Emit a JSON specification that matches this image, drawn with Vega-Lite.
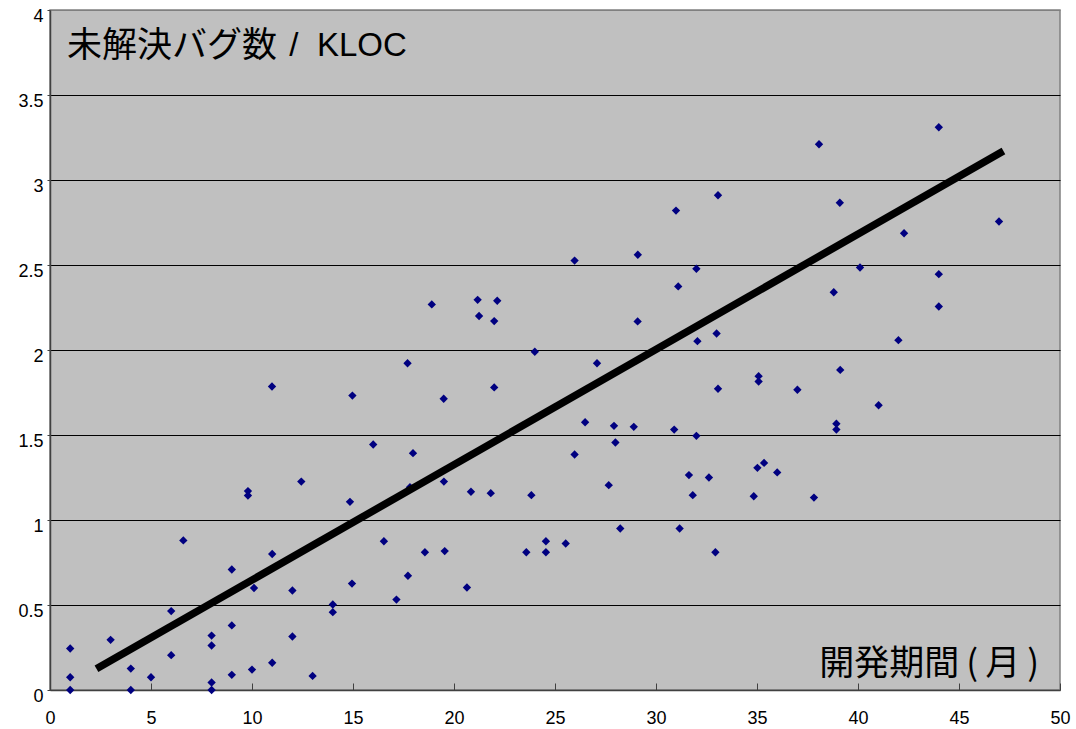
{
  "$schema": "https://vega.github.io/schema/vega-lite/v6.json",
  "width": 1010,
  "height": 680,
  "autosize": "none",
  "padding": {"left": 50, "top": 10, "right": 16, "bottom": 39},
  "background": "white",
  "config": {
    "view": {"fill": "#c0c0c0", "stroke": "#808080", "strokeWidth": 1.5},
    "axis": {"labelFont": "Liberation Sans", "labelFontSize": 18, "labelColor": "black", "title": null, "labelFlush": false, "labelOverlap": false, "format": "~g"}
  },
  "datasets": {
    "bugs": [
      {"months": 1, "bugs": 0.244}, {"months": 1, "bugs": 0.075}, {"months": 1, "bugs": 0.0},
      {"months": 3, "bugs": 0.295}, {"months": 4, "bugs": 0.126}, {"months": 4, "bugs": 0.0},
      {"months": 5, "bugs": 0.075}, {"months": 6, "bugs": 0.464}, {"months": 6, "bugs": 0.205},
      {"months": 6.6, "bugs": 0.88}, {"months": 8, "bugs": 0.32}, {"months": 8, "bugs": 0.262},
      {"months": 8, "bugs": 0.044}, {"months": 8, "bugs": 0.0}, {"months": 9, "bugs": 0.709},
      {"months": 9, "bugs": 0.38}, {"months": 9, "bugs": 0.089}, {"months": 9.8, "bugs": 1.17},
      {"months": 9.8, "bugs": 1.144}, {"months": 10.1, "bugs": 0.6}, {"months": 10, "bugs": 0.12},
      {"months": 11, "bugs": 0.8}, {"months": 11, "bugs": 0.16}, {"months": 10.99, "bugs": 1.785},
      {"months": 12, "bugs": 0.585}, {"months": 12, "bugs": 0.315}, {"months": 12.44, "bugs": 1.226},
      {"months": 13, "bugs": 0.083}, {"months": 14, "bugs": 0.503}, {"months": 14, "bugs": 0.458},
      {"months": 14.85, "bugs": 1.107}, {"months": 14.95, "bugs": 0.626}, {"months": 14.97, "bugs": 1.732},
      {"months": 16.0, "bugs": 1.444}, {"months": 16.53, "bugs": 0.875}, {"months": 17.15, "bugs": 0.532},
      {"months": 17.72, "bugs": 0.672}, {"months": 17.7, "bugs": 1.922}, {"months": 17.82, "bugs": 1.193},
      {"months": 17.97, "bugs": 1.393}, {"months": 18.56, "bugs": 0.81}, {"months": 18.9, "bugs": 2.268},
      {"months": 19.5, "bugs": 1.226}, {"months": 19.49, "bugs": 1.713}, {"months": 19.54, "bugs": 0.817},
      {"months": 20.64, "bugs": 0.603}, {"months": 20.84, "bugs": 1.166}, {"months": 21.17, "bugs": 2.295},
      {"months": 21.24, "bugs": 2.2}, {"months": 21.82, "bugs": 1.158}, {"months": 21.99, "bugs": 2.17},
      {"months": 21.99, "bugs": 1.78}, {"months": 22.14, "bugs": 2.29}, {"months": 23.58, "bugs": 0.81},
      {"months": 23.83, "bugs": 1.146}, {"months": 24.0, "bugs": 1.99}, {"months": 24.55, "bugs": 0.875},
      {"months": 24.55, "bugs": 0.81}, {"months": 25.53, "bugs": 0.862}, {"months": 25.97, "bugs": 2.526},
      {"months": 25.97, "bugs": 1.385}, {"months": 26.49, "bugs": 1.575}, {"months": 27.08, "bugs": 1.922},
      {"months": 27.66, "bugs": 1.205}, {"months": 27.92, "bugs": 1.554}, {"months": 27.99, "bugs": 1.456},
      {"months": 28.23, "bugs": 0.95}, {"months": 28.9, "bugs": 1.548}, {"months": 29.09, "bugs": 2.168},
      {"months": 29.1, "bugs": 2.56}, {"months": 30.9, "bugs": 1.532}, {"months": 30.99, "bugs": 2.82},
      {"months": 31.1, "bugs": 2.374}, {"months": 31.17, "bugs": 0.95}, {"months": 31.63, "bugs": 1.264},
      {"months": 31.82, "bugs": 1.146}, {"months": 32.0, "bugs": 2.478}, {"months": 32.05, "bugs": 2.052},
      {"months": 32.0, "bugs": 1.495}, {"months": 32.62, "bugs": 1.25}, {"months": 32.94, "bugs": 0.81},
      {"months": 33.0, "bugs": 2.097}, {"months": 33.07, "bugs": 2.91}, {"months": 33.07, "bugs": 1.772},
      {"months": 34.84, "bugs": 1.14}, {"months": 35.02, "bugs": 1.307}, {"months": 35.08, "bugs": 1.846},
      {"months": 35.08, "bugs": 1.815}, {"months": 35.35, "bugs": 1.336}, {"months": 36.0, "bugs": 1.28},
      {"months": 37.0, "bugs": 1.766}, {"months": 37.82, "bugs": 1.132}, {"months": 38.07, "bugs": 3.21},
      {"months": 38.8, "bugs": 2.34}, {"months": 38.93, "bugs": 1.566}, {"months": 38.93, "bugs": 1.532},
      {"months": 39.1, "bugs": 2.866}, {"months": 39.12, "bugs": 1.883}, {"months": 40.1, "bugs": 2.485},
      {"months": 41.02, "bugs": 1.675}, {"months": 42.0, "bugs": 2.058}, {"months": 42.28, "bugs": 2.687},
      {"months": 44.0, "bugs": 3.31}, {"months": 44.0, "bugs": 2.446}, {"months": 44.0, "bugs": 2.256},
      {"months": 46.98, "bugs": 2.756}
    ],
    "trend": [
      {"months": 2.3, "bugs": 0.125},
      {"months": 47.2, "bugs": 3.17}
    ]
  },
  "layer": [
    {
      "data": {"name": "bugs"},
      "mark": {"type": "point", "shape": "diamond", "filled": true, "color": "#000080", "size": 70, "opacity": 1},
      "encoding": {
        "x": {"field": "months", "type": "quantitative",
          "scale": {"domain": [0, 50], "nice": false, "zero": true},
          "axis": {"values": [0, 5, 10, 15, 20, 25, 30, 35, 40, 45, 50], "grid": false, "domainColor": "#404040", "domainWidth": 1.5, "tickColor": "#404040", "tickSize": -7, "labelPadding": 26}},
        "y": {"field": "bugs", "type": "quantitative",
          "scale": {"domain": [0, 4], "nice": false},
          "axis": {"values": [0, 0.5, 1, 1.5, 2, 2.5, 3, 3.5, 4], "grid": true,
            "gridColor": {"condition": {"test": "datum.value >= 4 || datum.value <= 0", "value": "#808080"}, "value": "black"},
            "gridWidth": 1.2, "domainColor": "#404040", "domainWidth": 1.5, "tickColor": "#404040", "tickSize": 3, "labelPadding": 4, "labelOffset": 6}}
      }
    },
    {
      "data": {"name": "trend"},
      "mark": {"type": "line", "color": "black", "strokeWidth": 7.5, "strokeCap": "butt"},
      "encoding": {
        "x": {"field": "months", "type": "quantitative"},
        "y": {"field": "bugs", "type": "quantitative"}
      }
    },
    {
      "data": {"values": [{}]},
      "mark": {"type": "text", "text": "未解決バグ数", "align": "left", "baseline": "middle", "font": "Noto Sans CJK JP", "fontSize": 35, "color": "black"},
      "encoding": {
        "x": {"datum": 0.84, "type": "quantitative"},
        "y": {"datum": 3.79, "type": "quantitative"}
      }
    },
    {
      "data": {"values": [{}]},
      "mark": {"type": "text", "text": "/\u00a0 KLOC", "align": "left", "baseline": "middle", "font": "Liberation Sans", "fontSize": 33, "color": "black"},
      "encoding": {
        "x": {"datum": 11.85, "type": "quantitative"},
        "y": {"datum": 3.79, "type": "quantitative"}
      }
    },
    {
      "data": {"values": [{}]},
      "mark": {"type": "text", "text": "開発期間\u2009(\u2009月\u2009)", "align": "right", "baseline": "middle", "font": "Noto Sans CJK JP", "fontSize": 35, "color": "black"},
      "encoding": {
        "x": {"datum": 48.96, "type": "quantitative"},
        "y": {"datum": 0.153, "type": "quantitative"}
      }
    }
  ]
}
